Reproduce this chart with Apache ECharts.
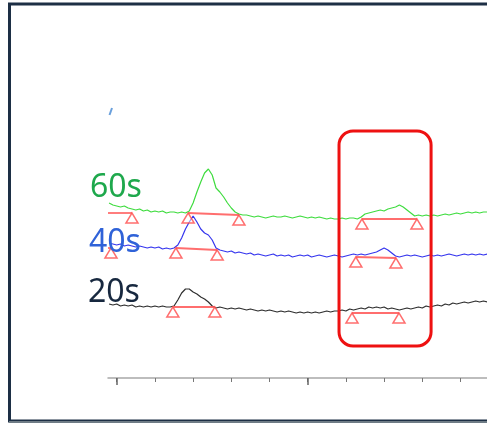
<!DOCTYPE html>
<html>
<head>
<meta charset="utf-8">
<script src="https://cdn.jsdelivr.net/npm/echarts@6/dist/echarts.min.js"></script>
<style>
html,body{margin:0;padding:0;background:#fff;}
#c{width:487px;height:423px;}
</style>
</head>
<body>
<div id="c"></div>
<script>
// sampling of the traces (minutes)
const tStart = -0.2, tStep = 0.1;
// detector signal (offset overlay)
const green60 = [175,173,172,171,172,170,169,168,169,167,
168,166,167,166,167,165,166,166,165,166,
165,167,175,186,196,205,209,203,190,186,
181,175,170,166,164,163,163,162,161,162,
161,160,161,162,161,161,162,161,160,161,
162,161,160,161,160,161,160,159,160,159,
159,160,159,160,160,159,161,164,165,166,
167,168,167,169,170,171,173,171,168,165,
162,163,162,163,162,163,162,163,164,163,
164,165,164,165,166,165,166,165,166,166];
const blue40 = [135,134,133,134,132,133,132,131,132,131,
130,131,130,131,129,130,129,130,133,140,
149,156,162,156,149,145,143,138,130,128,
127,126,127,125,126,125,124,125,123,124,
123,122,123,124,122,123,122,123,121,122,
123,122,123,121,122,123,122,121,122,123,
122,121,122,123,124,123,124,123,124,125,
126,128,130,128,125,122,121,122,123,122,
123,122,121,122,123,122,123,122,123,124,
123,122,123,124,123,124,123,124,123,124];
const black20 = [74,73,74,72,73,72,73,71,72,71,
72,71,72,71,72,71,71,72,78,85,
89,89,86,84,81,79,76,72,70,71,
70,69,70,69,70,69,68,69,68,67,
68,67,68,67,66,67,66,67,66,65,
66,65,66,65,66,65,66,67,66,67,
67,68,67,69,68,69,70,69,71,70,
71,70,71,69,70,69,68,69,70,69,
70,71,70,72,71,72,73,72,74,73,
75,74,75,76,75,76,77,76,77,76];
// integration baselines: [tStart, sStart, tEnd, sEnd]
const green60Peaks = [[-0.228,165,0.40,165],[1.87,165,3.20,163],[6.42,159,7.86,159]];
const blue40Peaks  = [[-0.228,130,-0.15,130],[1.55,130,2.63,128],[6.26,121,7.31,120]];
const black20Peaks = [[1.47,71,2.57,71],[6.16,65,7.39,65]];
const seriesNames = ['60s','40s','20s'];
const minorTicks = [0,1,2,3,4,5,6,7,8,9];
const majorTicks = [0,5];
const highlightBox = [5.82, 247, 8.23, 32]; // t1, s1, t2, s2

const xMin = -0.228, xMax = 9.694;

function pairs(vals){ return vals.map((v,i)=>[+(tStart+i*tStep).toFixed(3), v]); }
function baseLines(peaks){ return peaks.map(p=>[{coord:[p[0],p[1]]},{coord:[p[2],p[3]]}]); }
function tris(peaks){ const o=[]; peaks.forEach(p=>{ if(p[0]>xMin+0.01) o.push([p[0],p[1]]); o.push([p[2],p[3]]);}); return o; }

const traces = [
  {name:seriesNames[0], data:green60, peaks:green60Peaks, color:'#3fdc3f'},
  {name:seriesNames[1], data:blue40, peaks:blue40Peaks, color:'#3535ee'},
  {name:seriesNames[2], data:black20, peaks:black20Peaks, color:'#2e2e2e'}
];

const series = [];
traces.forEach(tr=>{
  series.push({
    type:'line', name:tr.name, data:pairs(tr.data), showSymbol:false, symbol:'none',
    lineStyle:{color:tr.color, width:1.2}, animation:false, silent:true, z:2,
    markLine:{silent:true, symbol:'none', animation:false, label:{show:false},
      lineStyle:{color:'#ff5555', width:1.8, type:'solid', opacity:0.85},
      data: baseLines(tr.peaks)}
  });
  series.push({
    type:'scatter', data:tris(tr.peaks), symbol:'triangle', symbolSize:[12,10],
    symbolOffset:[0,5], clip:true, animation:false, silent:true, z:4,
    itemStyle:{color:'rgba(255,255,255,0.6)', borderColor:'#ff4a4a', borderWidth:1.5}
  });
});

const chart = echarts.init(document.getElementById('c'), null, {renderer:'canvas'});
chart.setOption({
  animation:false,
  grid:{left:108, right:0, top:0, bottom:45, containLabel:false},
  xAxis:[{
    type:'value', min:xMin, max:xMax,
    axisLine:{show:true, lineStyle:{color:'#a8a8a8', width:1.5}},
    axisTick:{show:true, length:4, customValues:minorTicks, lineStyle:{color:'#777', width:1}},
    axisLabel:{show:false}, splitLine:{show:false}
  },{
    type:'value', min:xMin, max:xMax, position:'bottom', offset:0,
    axisLine:{show:false},
    axisTick:{show:true, length:7, customValues:majorTicks, lineStyle:{color:'#666', width:1.5}},
    axisLabel:{show:false}, splitLine:{show:false}
  }],
  yAxis:{type:'value', min:0, max:378, show:false},
  series:series
});

const p1 = chart.convertToPixel({gridIndex:0}, [highlightBox[0], highlightBox[1]]);
const p2 = chart.convertToPixel({gridIndex:0}, [highlightBox[2], highlightBox[3]]);
const font = '"Noto Sans", "Open Sans", sans-serif';
chart.setOption({
  graphic:[
    {type:'rect', shape:{x:9.5, y:4, width:600, height:417}, style:{fill:'none', stroke:'#1d2f45', lineWidth:3}, z:100},
    {type:'line', shape:{x1:9, y1:422, x2:487, y2:422}, style:{stroke:'#6f7c86', lineWidth:2}, z:101},
    {type:'rect', shape:{x:p1[0], y:p1[1], width:p2[0]-p1[0], height:p2[1]-p1[1], r:14},
      style:{fill:'none', stroke:'#ee1111', lineWidth:3}, z:50},
    {type:'line', shape:{x1:112, y1:108, x2:109.5, y2:115}, style:{stroke:'#6aa0dc', lineWidth:2}, z:50},
    {type:'text', x:90, y:188, style:{text:seriesNames[0], font:'32px '+font, fill:'#1ea84c', verticalAlign:'middle'}, z:60},
    {type:'text', x:89, y:243, style:{text:seriesNames[1], font:'32px '+font, fill:'#2f62d8', verticalAlign:'middle'}, z:60},
    {type:'text', x:88, y:293, style:{text:seriesNames[2], font:'32px '+font, fill:'#17283f', verticalAlign:'middle'}, z:60}
  ]
});
</script>
</body>
</html>
